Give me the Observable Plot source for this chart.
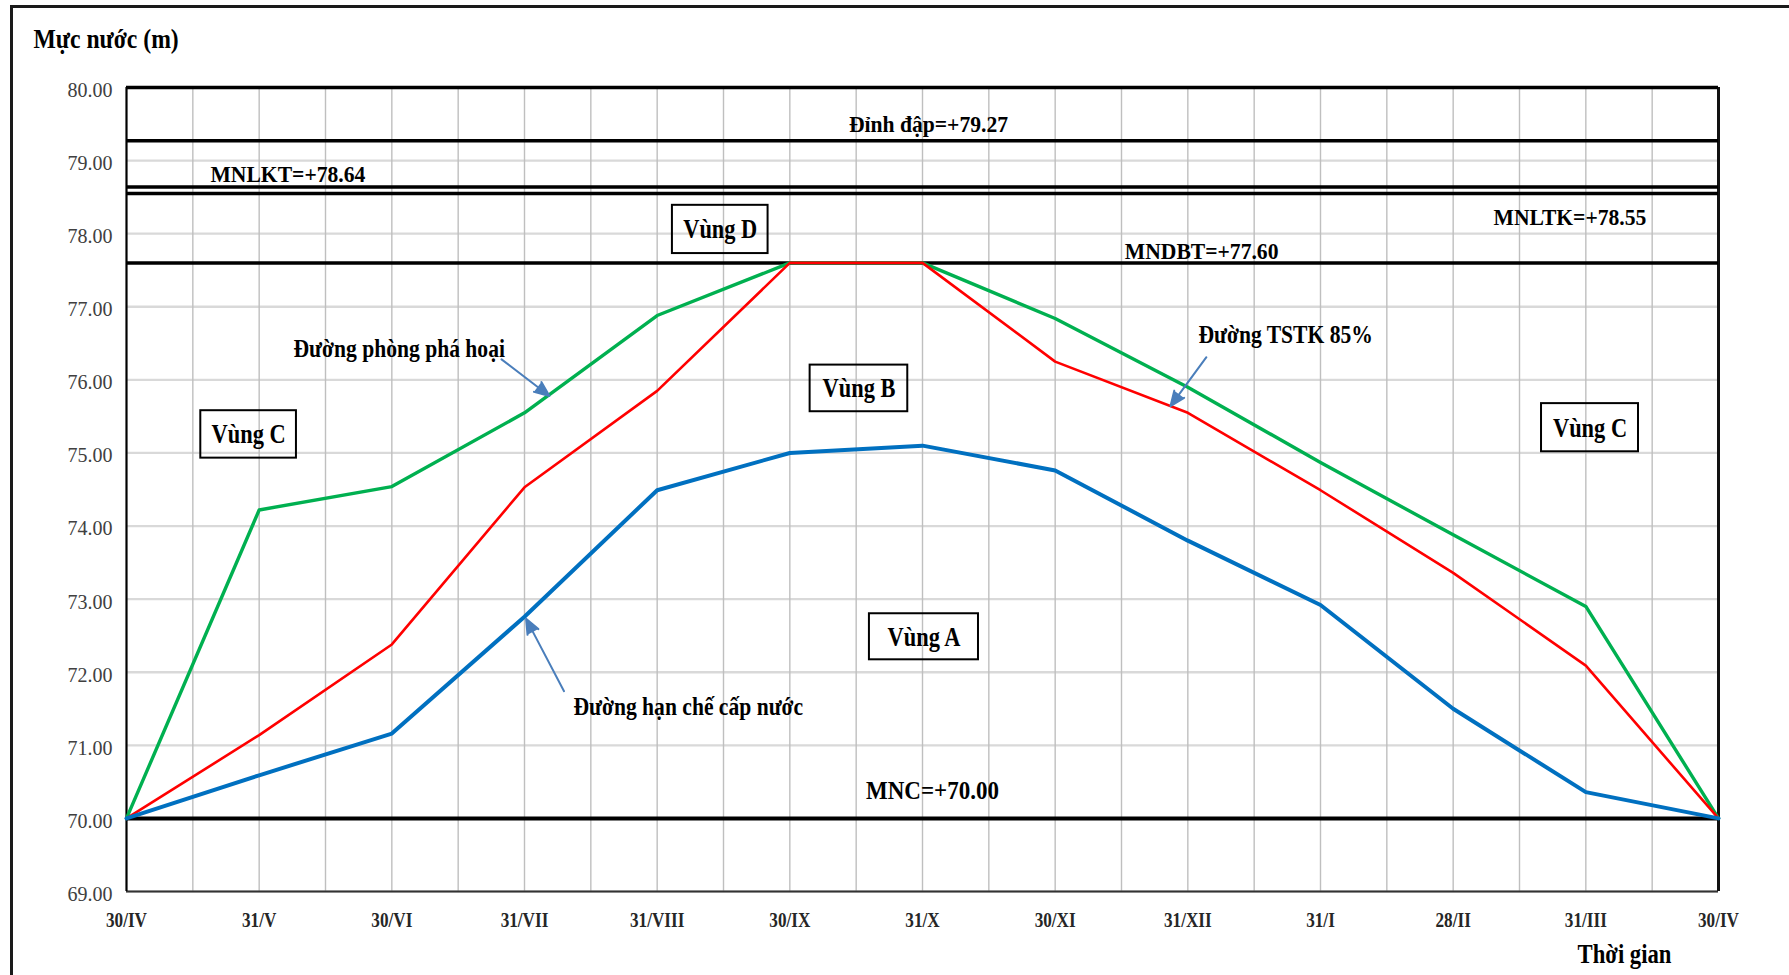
<!DOCTYPE html>
<html>
<head>
<meta charset="utf-8">
<script src="https://cdn.jsdelivr.net/npm/d3@7"></script>
<script src="https://cdn.jsdelivr.net/npm/@observablehq/plot@0.6"></script>
<style>
  html, body { margin: 0; padding: 0; background: #fff; overflow: hidden; }
  #wrap { position: relative; width: 1789px; height: 975px; }
  #frame { position: absolute; left: 10px; top: 5px; width: 2400px; height: 2400px;
           border: 3px solid #1a1a1a; box-sizing: border-box; pointer-events: none; }
</style>
</head>
<body>
<div id="wrap"><div id="frame"></div><div id="chart"></div></div>
<script>
// ---- data ----
const months = ["30/IV","31/V","30/VI","31/VII","31/VIII","30/IX","31/X","30/XI","31/XII","31/I","28/II","31/III","30/IV"];
const duongPhongPhaHoai = [70.00, 74.22, 74.54, 75.55, 76.88, 77.60, 77.60, 76.84, 75.90, 74.87, 73.88, 72.90, 70.00];
const duongTSTK85 =       [70.00, 71.14, 72.38, 74.53, 75.85, 77.60, 77.60, 76.25, 75.55, 74.49, 73.36, 72.09, 70.00];
const duongHanChe =       [70.00, 70.59, 71.16, 72.76, 74.49, 75.00, 75.10, 74.76, 73.80, 72.92, 71.50, 70.36, 70.00];
const yTicks = [69, 70, 71, 72, 73, 74, 75, 76, 77, 78, 79, 80];
const refValues = [79.27, 78.64, 78.55, 77.60, 70.00];
const refLabels = ["Đỉnh đập=+79.27", "MNLKT=+78.64", "MNLTK=+78.55", "MNDBT=+77.60", "MNC=+70.00"];

// annotation placements (data coordinates)
const refLabelPos = [
  {x: 6.045, y: 79.389, anchor: "middle"},
  {x: 0.633, y: 78.706, anchor: "start"},
  {x: 10.304, y: 78.115, anchor: "start"},
  {x: 8.683, y: 77.650, anchor: "end"},
  {x: 5.574, y: 70.260, anchor: "start"}
];
const zones = [
  {label: "Vùng C", x1: 0.560, x2: 1.281, y1: 74.929, y2: 75.578},
  {label: "Vùng D", x1: 4.115, x2: 4.836, y1: 77.728, y2: 78.388},
  {label: "Vùng B", x1: 5.153, x2: 5.889, y1: 75.564, y2: 76.202},
  {label: "Vùng A", x1: 5.600, x2: 6.422, y1: 72.170, y2: 72.800},
  {label: "Vùng C", x1: 10.666, x2: 11.397, y1: 75.016, y2: 75.675}
];
const curveLabels = [
  {label: "Đường phòng phá hoại", x: 1.259, y: 76.311},
  {label: "Đường TSTK 85%", x: 8.080, y: 76.503},
  {label: "Đường hạn chế cấp nước", x: 3.369, y: 71.421}
];
const pointers = [
  {x1: 2.827, y1: 76.28, x2: 3.188, y2: 75.78},
  {x1: 8.140, y1: 76.31, x2: 7.869, y2: 75.64},
  {x1: 3.298, y1: 71.74, x2: 3.012, y2: 72.73}
];

const refs = refValues.map((v, i) => ({value: v, label: refLabels[i], ...refLabelPos[i]}));
const xIdx = (_, i) => i;
const halfGrid = d3.range(0.5, months.length - 1, 0.5);
const refText = (anchor) => Plot.text(refs.filter(d => d.anchor === anchor), {
  x: "x", y: "y", text: "label", textAnchor: anchor,
  fontSize: d => (d.value === 70 ? 25 : 24), fontWeight: "bold", fill: "#000", lineAnchor: "bottom"});

const chart = Plot.plot({
  width: 1789,
  height: 975,
  marginLeft: 126,
  marginRight: 71,
  marginTop: 87,
  marginBottom: 84,
  style: {fontFamily: "'Liberation Serif', 'Times New Roman', serif", background: "white", overflow: "visible"},
  x: {type: "linear", domain: [0, months.length - 1]},
  y: {domain: [69, 80]},
  marks: [
    Plot.gridY(yTicks, {stroke: "#d9d9d9", strokeOpacity: 1, strokeWidth: 2.3}),
    Plot.gridX(halfGrid, {stroke: "#bfbfbf", strokeOpacity: 1, strokeWidth: 1.4}),
    Plot.ruleY([69], {stroke: "#333", strokeWidth: 2}),
    Plot.ruleX([0], {stroke: "#000", strokeWidth: 2.2}),
    Plot.ruleX([months.length - 1], {stroke: "#111", strokeWidth: 3}),
    Plot.ruleY([80], {stroke: "#000", strokeWidth: 3.5}),
    Plot.ruleY(refs, {y: "value", stroke: "#000", strokeWidth: d => d.value === 70 ? 4 : 3.5}),
    Plot.axisY({ticks: yTicks, tickFormat: d => d.toFixed(2), tickSize: 0, tickPadding: 14, dy: 3,
      fontSize: 20, fill: "#404040", label: null}),
    Plot.axisX({ticks: d3.range(months.length), tickFormat: i => months[i], tickSize: 0, tickPadding: 20,
      fontSize: 22, fontWeight: "bold", fill: "#262626", label: null}),
    Plot.line(duongPhongPhaHoai, {x: xIdx, y: d => d, stroke: "#00b050", strokeWidth: 3.4}),
    Plot.line(duongTSTK85, {x: xIdx, y: d => d, stroke: "#ff0000", strokeWidth: 2.6}),
    Plot.line(duongHanChe, {x: xIdx, y: d => d, stroke: "#0070c0", strokeWidth: 4}),
    Plot.rect(zones, {x1: "x1", x2: "x2", y1: "y1", y2: "y2", fill: "none", stroke: "#000", strokeWidth: 2}),
    Plot.text(zones, {x: d => (d.x1 + d.x2) / 2, y: d => (d.y1 + d.y2) / 2, text: "label",
      fontSize: 28, fontWeight: "bold", fill: "#000", lineAnchor: "middle", textAnchor: "middle"}),
    refText("start"),
    refText("end"),
    refText("middle"),
    Plot.text(curveLabels, {x: "x", y: "y", text: "label", textAnchor: "start",
      fontSize: 26, fontWeight: "bold", fill: "#000", lineAnchor: "bottom"}),
    Plot.arrow(pointers, {x1: "x1", y1: "y1", x2: "x2", y2: "y2", stroke: "#4a7ebb", strokeWidth: 2,
      headLength: 12, headAngle: 45}),
    Plot.text(["Mực nước (m)"], {frameAnchor: "top-left", dx: -93, dy: -40, textAnchor: "start",
      lineAnchor: "bottom", fontSize: 27.5, fontWeight: "bold", fill: "#000"}),
    Plot.text(["Thời gian"], {frameAnchor: "bottom-right", dx: -94, dy: 71, textAnchor: "middle",
      lineAnchor: "bottom", fontSize: 27, fontWeight: "bold", fill: "#000"})
  ]
});
document.getElementById("chart").appendChild(chart);

// filled arrow heads, as in the reference
chart.querySelectorAll('g[aria-label="arrow"] path').forEach(p => {
  p.setAttribute("fill", "#4a7ebb");
  p.setAttribute("stroke-linejoin", "miter");
});

// horizontal condensing of the bold serif text to match the reference's narrow lettering
const squeeze = {"22": 0.78, "24": 0.9, "25": 0.92, "26": 0.83, "27": 0.84, "27.5": 0.86, "28": 0.8};
chart.querySelectorAll("text").forEach(t => {
  const holder = t.closest("[font-size]");
  const s = holder ? squeeze[holder.getAttribute("font-size")] : undefined;
  if (!s) return;
  const w = t.getComputedTextLength();
  if (!(w > 0)) return;
  t.setAttribute("textLength", (w * s).toFixed(2));
  t.setAttribute("lengthAdjust", "spacingAndGlyphs");
});
</script>
</body>
</html>
